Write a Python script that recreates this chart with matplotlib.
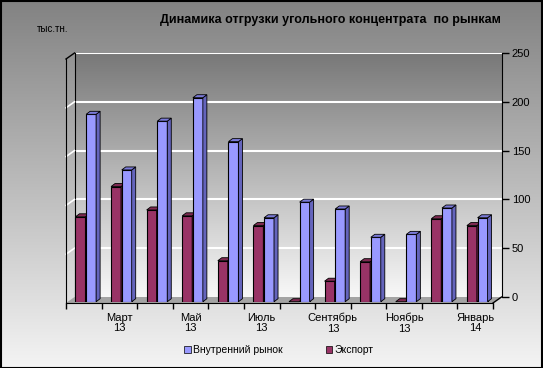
import numpy as np
import matplotlib
matplotlib.use("Agg")
import matplotlib.pyplot as plt
from matplotlib.colors import LinearSegmentedColormap
from matplotlib.patches import Polygon, Rectangle
from matplotlib.lines import Line2D

# ---- data ----
months = ["Февраль\n13", "Март\n13", "Апрель\n13", "Май\n13", "Июнь\n13", "Июль\n13",
          "Август\n13", "Сентябрь\n13", "Октябрь\n13", "Ноябрь\n13", "Декабрь\n13", "Январь\n14"]
domestic = [192, 135, 185, 209, 164, 86, 102, 95, 66, 69, 96, 86]   # Внутренний рынок
export = [87, 118, 94, 88, 42, 78, 0, 21, 41, 0, 85, 78]            # Экспорт
yticks = [0, 50, 100, 150, 200, 250]
title = "Динамика отгрузки угольного концентрата  по рынкам"
unit = "тыс.тн."
series_names = ["Внутренний рынок", "Экспорт"]

plt.rcParams['font.family'] = ['Liberation Sans', 'DejaVu Sans']

W, H = 543, 368
fig = plt.figure(figsize=(W / 100, H / 100), dpi=100)

# figure background gradient
bg = fig.add_axes([0, 0, 1, 1], zorder=0)
bg.axis('off')
cm_bg = LinearSegmentedColormap.from_list('bg', ['#828282', '#f4f4f4'])
bg.imshow(np.linspace(0, 1, 256).reshape(-1, 1), cmap=cm_bg, aspect='auto',
          extent=[0, 1, 0, 1], transform=bg.transAxes)
bg.set_xlim(0, 1); bg.set_ylim(0, 1)
bg.add_patch(Rectangle((0.5 / W, 0.5 / H), 1 - 1.5 / W, 1 - 1.5 / H, transform=bg.transAxes,
                       fill=False, edgecolor='black', lw=1.5))

n = len(months)
ymax = 250

def fpos(left, right, top, bottom):
    return [left / W, (H - bottom) / H, (right - left) / W, (bottom - top) / H]

# back wall
axb = fig.add_axes(fpos(74.5, 502, 53, 297), zorder=1)
cm_wall = LinearSegmentedColormap.from_list('wall', ['#787878', '#f8f8f8'])
axb.imshow(np.linspace(0, 1, 256).reshape(-1, 1), cmap=cm_wall, aspect='auto',
           extent=[0, 1, 0, 1], transform=axb.transAxes, zorder=0)
axb.set_xlim(0, 1)
axb.set_ylim(0, ymax)
axb.set_xticks([])
axb.yaxis.tick_right()
axb.set_yticks(yticks)
axb.tick_params(axis='y', length=5, width=1, colors='black', labelsize=8, pad=2)
for g in yticks[1:]:
    axb.axhline(g, color='white', lw=1.5, zorder=1)
for s in ['top', 'bottom']:
    axb.spines[s].set_visible(False)
axb.spines['left'].set_color('black')
axb.spines['right'].set_color('black')

# front frame
ax = fig.add_axes(fpos(66, 493, 59, 303), zorder=2)
ax.patch.set_alpha(0)
ax.set_xlim(0, n)
ax.set_ylim(0, ymax)
dx = 8.5 * n / 427.0
dy = 6.0 * ymax / 244.0
ax.add_patch(Polygon([(0, 0), (n, 0), (n + dx, dy), (dx, dy)], closed=True,
                     facecolor='#a4a4a4', edgecolor='none', clip_on=False, zorder=1))
ax.add_line(Line2D([n, n + dx], [0, dy], color='black', lw=1, clip_on=False, zorder=3))
ax.add_line(Line2D([0, dx], [ymax, ymax + dy], color='black', lw=1, clip_on=False, zorder=3))
for g in yticks[1:-1]:
    ax.add_line(Line2D([0, dx], [g, g + dy], color='white', lw=1.2, clip_on=False, zorder=2))
for s in ['top', 'right']:
    ax.spines[s].set_visible(False)
ax.spines['left'].set_color('black')
ax.spines['bottom'].set_color('black')
ax.set_yticks([])
ax.set_xticks(np.arange(0, n + 1))
ax.set_xticklabels([])
ax.tick_params(axis='x', which='major', length=4, width=1, direction='out')
ax.set_xticks(np.arange(n) + 0.5, minor=True)
ax.set_xticklabels([m if i % 2 == 1 else '' for i, m in enumerate(months)], minor=True,
                   linespacing=1.05)
ax.tick_params(axis='x', which='minor', length=0, labelsize=8, pad=7)

# bars
axr = fig.add_axes(fpos(68, 495, 57.7, 301.7), zorder=3)
axr.patch.set_alpha(0)
axr.axis('off')
axr.set_xlim(0, n)
axr.set_ylim(0, ymax)
bw = 0.28
ddx = 4.0 * n / 427.0
ddy = 3.0 * ymax / 244.0
x = np.arange(n) + 0.5
styles = [
    (export, -0.15, '#993366', '#66223f', '#7f2a52'),
    (domestic, 0.15, '#9999ff', '#6464bc', '#7a7ad8'),
]
for vals, off, fc, sc, tc in styles:
    rects = axr.bar(x + off, vals, width=bw, color=fc, edgecolor='black', linewidth=0.8, zorder=2)
    for r in rects:
        x0 = r.get_x(); x1 = x0 + r.get_width(); h = r.get_height()
        axr.add_patch(Polygon([(x1, 0), (x1 + ddx, ddy), (x1 + ddx, h + ddy), (x1, h)],
                              closed=True, facecolor=sc, edgecolor='black', lw=0.6,
                              clip_on=False, zorder=2))
        axr.add_patch(Polygon([(x0, h), (x0 + ddx, h + ddy), (x1 + ddx, h + ddy), (x1, h)],
                              closed=True, facecolor=tc, edgecolor='black', lw=0.6,
                              clip_on=False, zorder=2))

# texts
fig.text(330 / W, 1 - 20 / H, title, ha='center', va='center', fontsize=9, fontweight='bold')
fig.text(37 / W, 1 - 29 / H, unit, ha='left', va='center', fontsize=7)

handles = [Rectangle((0, 0), 1, 1, facecolor='#9999ff', edgecolor='black', lw=0.5),
           Rectangle((0, 0), 1, 1, facecolor='#993366', edgecolor='black', lw=0.5)]
fig.legend(handles, series_names, loc='center', bbox_to_anchor=(279 / W, 1 - 350 / H),
           ncol=2, frameon=False, fontsize=7.5, handlelength=0.6, handleheight=0.6,
           handletextpad=0.2, columnspacing=4.2)

fig.savefig('out.png', dpi=100)
